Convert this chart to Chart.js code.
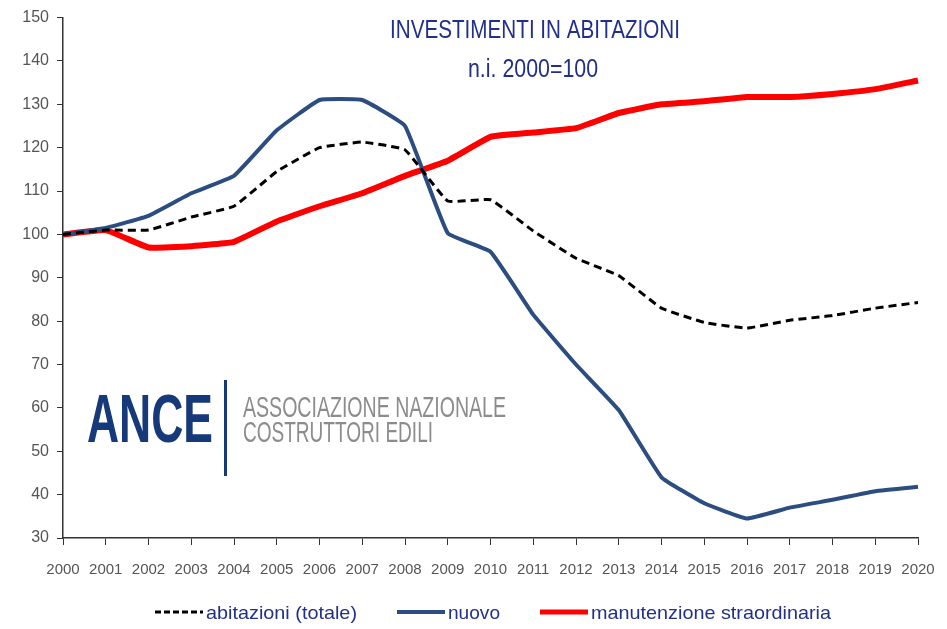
<!DOCTYPE html>
<html>
<head>
<meta charset="utf-8">
<script src="https://cdn.jsdelivr.net/npm/chart.js@4.4.0/dist/chart.umd.min.js"></script>
<style>
  html, body { margin: 0; padding: 0; background: #fff; }
  #wrap { width: 947px; height: 629px; }
</style>
</head>
<body>
<div id="wrap"><canvas id="investChart" width="947" height="629"></canvas></div>
<script>
// anni
const years = ['2000', '2001', '2002', '2003', '2004', '2005', '2006', '2007', '2008', '2009', '2010',
    '2011', '2012', '2013', '2014', '2015', '2016', '2017', '2018', '2019', '2020'];

// numeri indice 2000=100
const totale = [100, 101, 101, 104, 106.5, 114.5, 120, 121.3, 119.5, 107.7, 108,
    100.8, 94.5, 90.5, 83, 79.7, 78.4, 80.2, 81.3, 83, 84.3];
const nuovo = [100, 101.5, 104.3, 109.5, 113.5, 124, 131, 131, 125, 100.3, 96,
    81.5, 70, 59.5, 44, 38, 34.5, 37, 38.8, 40.8, 41.8];
const manutenzione = [100, 101, 97, 97.3, 98.3, 103, 106.5, 109.5, 113.5, 117, 122.5,
    123.5, 124.5, 128, 130, 130.7, 131.7, 131.7, 132.4, 133.5, 135.5];

const titleLines = ['INVESTIMENTI IN ABITAZIONI', 'n.i. 2000=100'];

const sans = "'Liberation Sans', Arial, sans-serif";
const navyText = '#22308a';

// testo compresso in orizzontale (font stretto tipo Calibri non disponibile)
function fitText(ctx, txt, x, yBase, w, font, color) {
    ctx.font = font;
    ctx.fillStyle = color;
    ctx.textAlign = 'left';
    ctx.textBaseline = 'alphabetic';
    const m = ctx.measureText(txt).width;
    ctx.save();
    ctx.translate(x, yBase);
    ctx.scale(w / m, 1);
    ctx.fillText(txt, 0, 0);
    ctx.restore();
}

// titolo, logo ANCE e legenda disegnati sul canvas
const decorPlugin = {
    id: 'decor',
    afterDraw(chart) {
        const ctx = chart.ctx;
        ctx.save();
        fitText(ctx, titleLines[0], 390, 38, 290, '25px ' + sans, navyText);
        fitText(ctx, titleLines[1], 468, 77, 130, '25px ' + sans, navyText);

        fitText(ctx, 'ANCE', 87, 442, 126, 'bold 69px ' + sans, '#16397a');
        ctx.fillStyle = '#16397a';
        ctx.fillRect(224, 380, 3, 96);
        fitText(ctx, 'ASSOCIAZIONE NAZIONALE', 243, 417, 263, '30px ' + sans, '#8c8c8c');
        fitText(ctx, 'COSTRUTTORI EDILI', 243, 442, 190, '30px ' + sans, '#8c8c8c');

        // legenda
        const textW = [151, 52, 240];
        let x = 155;
        const yLine = 612;
        chart.data.datasets.forEach(function(ds, i) {
            ctx.beginPath();
            ctx.setLineDash(ds.borderDash ? [6, 3] : []);
            ctx.strokeStyle = ds.borderColor;
            ctx.lineWidth = Math.min(ds.borderWidth, 5);
            ctx.moveTo(x, yLine);
            ctx.lineTo(x + 48, yLine);
            ctx.stroke();
            ctx.setLineDash([]);
            fitText(ctx, ds.label, x + 51, yLine + 7, textW[i], '19px ' + sans, navyText);
            x += 51 + textW[i] + 40;
        });
        ctx.restore();
    }
};

function drawInvestChart() {
    const ctx = document.getElementById('investChart').getContext('2d');
    new Chart(ctx, {
        type: 'line',
        data: {
            labels: years,
            datasets: [{
                label: 'abitazioni (totale)',
                data: totale,
                borderColor: '#000000',
                backgroundColor: '#000000',
                borderWidth: 3,
                borderDash: [8, 5],
                pointRadius: 0,
                tension: 0.1
            }, {
                label: 'nuovo',
                data: nuovo,
                borderColor: '#2c4d7f',
                backgroundColor: '#2c4d7f',
                borderWidth: 4,
                pointRadius: 0,
                tension: 0.1
            }, {
                label: 'manutenzione straordinaria',
                data: manutenzione,
                borderColor: '#ff0000',
                backgroundColor: '#ff0000',
                borderWidth: 6,
                pointRadius: 0,
                tension: 0.1
            }]
        },
        options: {
            responsive: false,
            animation: false,
            layout: { padding: { left: 0, right: 29, top: 8, bottom: 41 } },
            plugins: {
                tooltip: { enabled: false },
                legend: { display: false }
            },
            scales: {
                x: {
                    offset: false,
                    grid: { display: true, drawOnChartArea: false, drawTicks: true, tickLength: 7, color: '#333' },
                    border: { display: true, color: '#333', width: 1.5 },
                    ticks: { color: '#555', font: { family: sans, size: 15 }, padding: 16, maxRotation: 0, autoSkip: false },
                    afterFit(scale) {
                        scale.height = 50;
                        scale.paddingLeft = 0;
                        scale.paddingRight = 0;
                    }
                },
                y: {
                    min: 30,
                    max: 150,
                    grid: { display: true, drawOnChartArea: false, drawTicks: true, tickLength: 6, color: '#333' },
                    border: { display: true, color: '#333', width: 1.5 },
                    ticks: { stepSize: 10, color: '#555', font: { family: sans, size: 16 }, padding: 8 },
                    afterFit(scale) { scale.width = 63; }
                }
            }
        },
        plugins: [decorPlugin]
    });
}

drawInvestChart();
</script>
</body>
</html>
